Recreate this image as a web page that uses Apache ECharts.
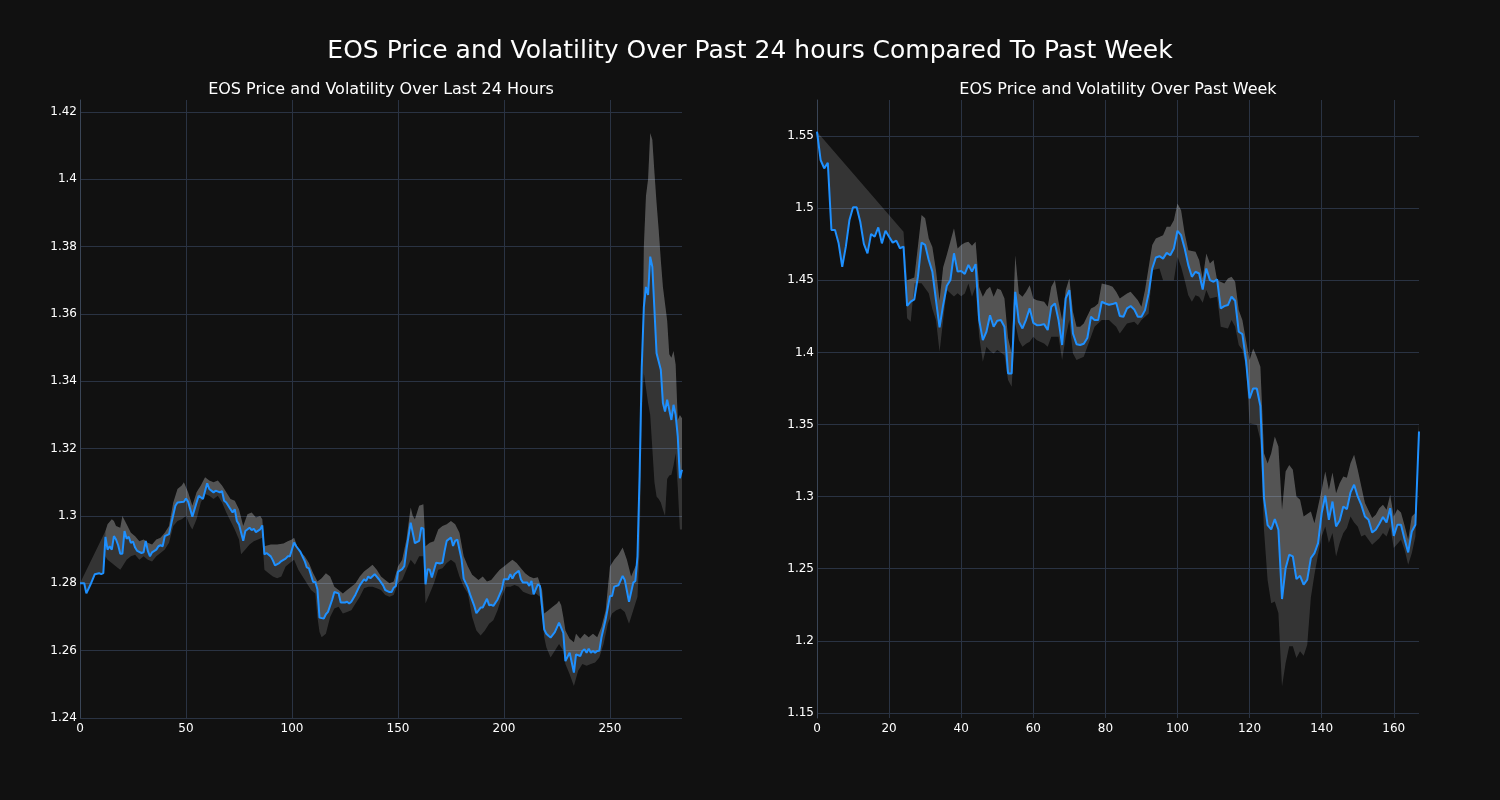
<!DOCTYPE html>
<html>
<head>
<meta charset="utf-8">
<script src="https://cdn.jsdelivr.net/npm/echarts@6/dist/echarts.min.js"></script>
<style>
html,body{margin:0;padding:0;background:#111111;}
#chart{width:1500px;height:800px;}
</style>
</head>
<body>
<div id="chart"></div>
<script>
// ---------- DATA ----------
const mainTitle = "EOS Price and Volatility Over Past 24 hours Compared To Past Week";
const leftTitle = "EOS Price and Volatility Over Last 24 Hours";
const rightTitle = "EOS Price and Volatility Over Past Week";

const leftXTicks = [0, 50, 100, 150, 200, 250];
const leftYTicks = [1.24, 1.26, 1.28, 1.30, 1.32, 1.34, 1.36, 1.38, 1.40, 1.42];
const rightXTicks = [0, 20, 40, 60, 80, 100, 120, 140, 160];
const rightYTicks = [1.15, 1.20, 1.25, 1.30, 1.35, 1.40, 1.45, 1.50, 1.55];

// Last 24 hours: price (index, value)
const dayX = [0,2,3,5,7,9,10,11,12,13,14,15,16,17,18,19,20,21,22,23,24,25,26,27,29,30,31,32,33,34,36,37,38,39,40,42,43,45,46,49,50,51,53,55,56,58,60,61,63,64,66,67,68,69,71,72,73,74,75,77,78,80,81,82,83,85,86,87,88,90,91,92,94,95,97,98,99,101,102,104,106,107,108,110,111,112,113,115,116,117,119,120,122,123,125,126,127,128,130,132,134,135,136,137,139,141,143,144,145,146,147,148,149,150,152,153,154,156,158,160,161,162,163,164,165,166,168,170,171,172,173,175,176,177,178,180,181,183,184,186,187,189,190,192,193,194,195,197,199,200,202,203,204,205,206,207,208,209,211,212,213,214,216,217,219,220,221,222,224,226,228,229,231,233,234,236,237,238,239,240,241,242,243,244,245,246,248,250,251,252,254,256,257,259,261,262,263,264,265,266,267,268,269,270,272,274,275,276,277,279,280,281,282,283,284];
const dayPrice = [1.2800,1.2800,1.2770,1.2797,1.2827,1.2830,1.2827,1.2830,1.2938,1.2900,1.2910,1.2900,1.2940,1.2930,1.2913,1.2888,1.2888,1.2955,1.2932,1.2938,1.2920,1.2924,1.2906,1.2896,1.2890,1.2892,1.2926,1.2896,1.2880,1.2892,1.2900,1.2910,1.2913,1.2910,1.2940,1.2946,1.2975,1.3030,1.3040,1.3042,1.3052,1.3042,1.2998,1.3040,1.3060,1.3050,1.3097,1.3080,1.3070,1.3075,1.3070,1.3074,1.3045,1.3040,1.3020,1.3010,1.3020,1.2985,1.2975,1.2926,1.2955,1.2965,1.2958,1.2962,1.2952,1.2960,1.2972,1.2886,1.2890,1.2880,1.2868,1.2853,1.2860,1.2866,1.2873,1.2880,1.2880,1.2921,1.2910,1.2893,1.2866,1.2847,1.2844,1.2804,1.2804,1.2782,1.2698,1.2695,1.2708,1.2715,1.2752,1.2774,1.2770,1.2743,1.2743,1.2745,1.2740,1.2745,1.2767,1.2794,1.2812,1.2807,1.2820,1.2815,1.2827,1.2812,1.2794,1.2780,1.2777,1.2774,1.2774,1.2787,1.2792,1.2834,1.2842,1.2851,1.2900,1.2980,1.2919,1.2926,1.2965,1.2962,1.2797,1.2842,1.2840,1.2817,1.2861,1.2859,1.2861,1.2896,1.2926,1.2936,1.2911,1.2926,1.2930,1.2871,1.2814,1.2787,1.2767,1.2733,1.2711,1.2728,1.2728,1.2754,1.2735,1.2736,1.2733,1.2752,1.2782,1.2812,1.2812,1.2827,1.2814,1.2827,1.2832,1.2837,1.2812,1.2802,1.2802,1.2792,1.2807,1.2767,1.2797,1.2792,1.2663,1.2650,1.2644,1.2639,1.2655,1.2683,1.2653,1.2569,1.2594,1.2535,1.2589,1.2584,1.2599,1.2604,1.2594,1.2606,1.2594,1.2599,1.2594,1.2599,1.2600,1.2639,1.2693,1.2762,1.2762,1.2790,1.2794,1.2822,1.2810,1.2745,1.2802,1.2807,1.2880,1.3120,1.3440,1.3620,1.3680,1.3656,1.3770,1.3740,1.3483,1.3434,1.3335,1.3310,1.3345,1.3285,1.3330,1.3300,1.3236,1.3112,1.3137];

// Last 24 hours: volatility band upper edge
const dayUpX = [0,12,13,15,16,17,19,20,22,24,26,28,30,32,34,36,38,40,42,44,46,48,49,51,53,55,57,59,61,63,65,67,69,71,73,75,77,79,81,83,85,86,87,90,93,96,98,100,101,103,106,108,110,112,114,116,118,120,122,124,126,128,130,132,134,136,138,140,142,144,146,148,150,152,154,156,157,158,160,162,163,165,167,169,171,173,175,177,179,181,183,185,188,190,192,194,196,198,200,202,204,206,208,210,212,214,216,218,219,221,223,225,226,227,228,229,231,233,234,236,238,240,242,244,246,248,250,252,254,256,258,260,262,263,264,265,266,267,268,269,270,271,272,273,274,275,276,277,278,279,280,281,282,283,284];
const dayUp = [1.2800,1.2955,1.2975,1.2990,1.2985,1.2970,1.2965,1.3000,1.2975,1.2950,1.2940,1.2925,1.2930,1.2920,1.2915,1.2930,1.2935,1.2950,1.2970,1.3040,1.3080,1.3090,1.3100,1.3070,1.3030,1.3070,1.3090,1.3115,1.3105,1.3100,1.3105,1.3090,1.3070,1.3050,1.3045,1.3020,1.2970,1.3005,1.3010,1.2995,1.3000,1.2990,1.2910,1.2915,1.2915,1.2918,1.2925,1.2930,1.2935,1.2900,1.2880,1.2860,1.2830,1.2805,1.2815,1.2830,1.2820,1.2790,1.2780,1.2770,1.2780,1.2790,1.2800,1.2820,1.2835,1.2845,1.2855,1.2840,1.2820,1.2810,1.2800,1.2805,1.2850,1.2870,1.2930,1.3025,1.3000,1.2990,1.3030,1.3035,1.2910,1.2920,1.2925,1.2960,1.2970,1.2975,1.2985,1.2975,1.2950,1.2880,1.2850,1.2825,1.2810,1.2820,1.2805,1.2810,1.2825,1.2840,1.2850,1.2860,1.2870,1.2860,1.2845,1.2830,1.2820,1.2815,1.2818,1.2780,1.2710,1.2720,1.2730,1.2740,1.2748,1.2735,1.2700,1.2660,1.2635,1.2625,1.2650,1.2635,1.2650,1.2640,1.2650,1.2640,1.2670,1.2720,1.2850,1.2870,1.2885,1.2906,1.2870,1.2820,1.2850,1.2860,1.3000,1.3300,1.3800,1.3950,1.4000,1.4137,1.4117,1.4020,1.3929,1.3850,1.3760,1.3680,1.3630,1.3580,1.3480,1.3470,1.3490,1.3450,1.3285,1.3300,1.3290];

// Last 24 hours: volatility band lower edge
const dayLoX = [12,13,15,17,19,20,22,24,26,28,30,32,34,36,38,40,42,44,46,48,50,52,53,55,57,59,61,63,65,67,69,71,73,75,76,78,80,82,84,86,87,89,91,93,95,97,99,101,103,105,107,109,111,112,113,114,116,118,120,122,124,126,128,130,132,134,136,138,140,142,144,146,148,150,152,154,156,158,160,162,163,165,167,169,171,173,175,177,179,181,183,185,187,189,191,193,195,197,199,201,203,205,207,209,211,213,215,217,218,219,220,222,224,226,228,229,231,233,235,237,239,241,243,245,247,249,251,253,255,257,259,261,262,263,264,265,266,267,268,269,270,271,272,273,274,275,276,277,278,279,280,281,282,283,284];
const dayLo = [1.2880,1.2870,1.2860,1.2850,1.2840,1.2850,1.2870,1.2880,1.2885,1.2870,1.2880,1.2870,1.2865,1.2880,1.2890,1.2900,1.2920,1.2970,1.2985,1.2990,1.3000,1.2970,1.2960,1.2990,1.3040,1.3065,1.3060,1.3050,1.3060,1.3040,1.3010,1.2985,1.2960,1.2930,1.2886,1.2900,1.2915,1.2925,1.2930,1.2935,1.2840,1.2830,1.2820,1.2815,1.2820,1.2850,1.2860,1.2870,1.2840,1.2820,1.2800,1.2780,1.2770,1.2700,1.2655,1.2640,1.2650,1.2700,1.2725,1.2730,1.2710,1.2715,1.2720,1.2740,1.2760,1.2785,1.2790,1.2790,1.2785,1.2780,1.2765,1.2760,1.2765,1.2800,1.2810,1.2840,1.2870,1.2855,1.2880,1.2880,1.2740,1.2770,1.2800,1.2840,1.2845,1.2860,1.2870,1.2860,1.2820,1.2790,1.2770,1.2700,1.2660,1.2645,1.2660,1.2680,1.2690,1.2720,1.2760,1.2790,1.2790,1.2795,1.2790,1.2775,1.2770,1.2765,1.2770,1.2760,1.2700,1.2640,1.2610,1.2580,1.2600,1.2620,1.2600,1.2560,1.2530,1.2495,1.2540,1.2560,1.2555,1.2560,1.2565,1.2580,1.2620,1.2680,1.2710,1.2720,1.2725,1.2715,1.2680,1.2720,1.2740,1.2760,1.2900,1.3300,1.3424,1.3380,1.3335,1.3300,1.3200,1.3100,1.3058,1.3050,1.3040,1.3018,1.3000,1.3110,1.3120,1.3122,1.3150,1.3186,1.3087,1.2960,1.2960];

// Past week: price (index, value)
const weekX = [];
for (let i = 0; i <= 167; i++) weekX.push(i);
const weekPrice = [1.5530,1.5334,1.5276,1.5315,1.4849,1.4849,1.4756,1.4594,1.4733,1.4918,1.5006,1.5006,1.4906,1.4752,1.4687,1.4821,1.4802,1.4867,1.4756,1.4844,1.4802,1.4761,1.4775,1.4722,1.4733,1.4322,1.4352,1.4368,1.4525,1.4761,1.4745,1.4641,1.4560,1.4363,1.4174,1.4329,1.4460,1.4502,1.4687,1.4560,1.4565,1.4544,1.4606,1.4560,1.4612,1.4224,1.4085,1.4143,1.4258,1.4178,1.4219,1.4224,1.4178,1.3854,1.3854,1.4420,1.4212,1.4166,1.4228,1.4305,1.4205,1.4189,1.4190,1.4196,1.4155,1.4316,1.4340,1.4224,1.4051,1.4374,1.4432,1.4131,1.4057,1.4051,1.4060,1.4100,1.4247,1.4224,1.4224,1.4351,1.4339,1.4330,1.4335,1.4344,1.4252,1.4247,1.4305,1.4321,1.4298,1.4247,1.4247,1.4293,1.4409,1.4582,1.4658,1.4667,1.4650,1.4690,1.4674,1.4720,1.4843,1.4813,1.4720,1.4605,1.4524,1.4559,1.4547,1.4436,1.4582,1.4501,1.4490,1.4506,1.4305,1.4321,1.4328,1.4386,1.4358,1.4143,1.4127,1.3947,1.3681,1.3750,1.3750,1.3628,1.2990,1.2803,1.2773,1.2844,1.2770,1.2290,1.2504,1.2597,1.2585,1.2428,1.2451,1.2389,1.2424,1.2574,1.2608,1.2678,1.2886,1.3006,1.2839,1.2966,1.2793,1.2835,1.2932,1.2913,1.3029,1.3082,1.3001,1.2943,1.2862,1.2839,1.2752,1.2770,1.2812,1.2858,1.2821,1.2920,1.2728,1.2805,1.2805,1.2705,1.2613,1.2758,1.2805,1.3451];

// Past week: volatility band upper edge
const weekUpX = [0,24,25,27,29,30,31,32,33,34,35,36,38,39,40,41,42,43,44,45,46,47,48,49,50,51,52,53,54,55,56,57,58,59,60,61,63,64,65,66,67,68,69,70,71,72,73,74,76,77,78,79,81,82,83,84,86,87,89,90,91,93,94,96,97,98,99,100,101,102,103,105,106,107,108,109,110,111,113,114,115,116,117,118,119,120,121,122,123,124,125,126,127,128,129,130,131,132,133,134,135,137,138,139,140,141,142,143,144,145,146,147,148,149,150,151,152,154,155,156,157,158,159,160,161,162,163,164,165,166,167];
const weekUp = [1.5530,1.4837,1.4500,1.4520,1.4953,1.4930,1.4790,1.4730,1.4570,1.4360,1.4590,1.4675,1.4860,1.4720,1.4745,1.4760,1.4767,1.4740,1.4767,1.4450,1.4386,1.4432,1.4455,1.4386,1.4443,1.4432,1.4374,1.4100,1.3993,1.4674,1.4409,1.4386,1.4420,1.4466,1.4374,1.4362,1.4351,1.4316,1.4455,1.4501,1.4351,1.4224,1.4432,1.4513,1.4282,1.4178,1.4178,1.4200,1.4305,1.4316,1.4339,1.4478,1.4466,1.4455,1.4420,1.4374,1.4409,1.4420,1.4362,1.4316,1.4432,1.4744,1.4790,1.4813,1.4871,1.4871,1.4917,1.5032,1.4986,1.4824,1.4709,1.4697,1.4640,1.4513,1.4686,1.4617,1.4640,1.4500,1.4478,1.4513,1.4524,1.4490,1.4293,1.4224,1.4085,1.3947,1.4027,1.3970,1.3900,1.3300,1.3230,1.3300,1.3417,1.3348,1.2909,1.3174,1.3220,1.3186,1.3001,1.2978,1.2862,1.2897,1.2816,1.2932,1.3047,1.3174,1.3047,1.3167,1.3024,1.3093,1.3140,1.3130,1.3232,1.3290,1.3186,1.3070,1.2955,1.2851,1.2874,1.2920,1.2943,1.2909,1.3013,1.2862,1.2913,1.2890,1.2800,1.2701,1.2862,1.2886,1.3510];

// Past week: volatility band lower edge
const weekLoX = [25,26,27,29,31,32,33,34,35,36,38,39,40,41,42,43,44,45,46,47,48,49,50,51,52,53,54,55,56,57,58,59,60,61,63,64,65,67,68,69,70,71,72,74,75,76,77,79,81,82,83,84,86,88,89,90,92,93,95,96,99,100,101,102,103,104,105,106,107,108,109,111,112,114,115,116,117,118,119,120,122,123,124,125,126,127,128,129,130,131,132,133,134,135,136,137,138,139,140,141,142,143,144,145,146,147,148,149,150,151,152,154,156,157,158,159,160,162,163,164,165,166,167];
const weekLo = [1.4236,1.4213,1.4480,1.4480,1.4410,1.4300,1.4225,1.4005,1.4225,1.4433,1.4387,1.4410,1.4390,1.4409,1.4478,1.4386,1.4455,1.4108,1.3935,1.4039,1.4010,1.3993,1.4016,1.4000,1.3981,1.3808,1.3762,1.4201,1.4085,1.4039,1.4060,1.4074,1.4108,1.4085,1.4062,1.4039,1.4108,1.4108,1.3947,1.4108,1.4224,1.3993,1.3947,1.3970,1.4039,1.4108,1.4178,1.4224,1.4224,1.4200,1.4178,1.4131,1.4200,1.4212,1.4189,1.4224,1.4270,1.4570,1.4582,1.4500,1.4500,1.4663,1.4593,1.4500,1.4397,1.4351,1.4397,1.4386,1.4344,1.4432,1.4374,1.4386,1.4178,1.4166,1.4224,1.4178,1.4051,1.4016,1.3900,1.3508,1.3496,1.3392,1.2768,1.2422,1.2260,1.2273,1.2193,1.1684,1.1846,1.1962,1.1962,1.1881,1.1927,1.1897,1.1973,1.2300,1.2460,1.2600,1.2724,1.2793,1.2678,1.2747,1.2585,1.2678,1.2747,1.2782,1.2862,1.2820,1.2793,1.2724,1.2735,1.2666,1.2712,1.2747,1.2724,1.2793,1.2643,1.2701,1.2631,1.2527,1.2608,1.2724,1.3440];

// ---------- CHART ----------
const FONT = "DejaVu Sans";
const GRID_COLOR = "#2a3343";
const LINE_COLOR = "#1e90ff";
const BAND_DARK = "rgba(255,255,255,0.15)";
const BAND_LIGHT = "rgba(255,255,255,0.16)";

function pairs(xs, ys) { return xs.map((x, i) => [x, ys[i]]); }

// full band polygon: upper edge forward, lower edge backward, then price before the lower edge starts
function bandRender(upX, upY, loX, loY, pX, pY) {
  return function (params, api) {
    const pts = [];
    for (let i = 0; i < upX.length; i++) pts.push(api.coord([upX[i], upY[i]]));
    for (let i = loX.length - 1; i >= 0; i--) pts.push(api.coord([loX[i], loY[i]]));
    for (let i = pX.length - 1; i >= 0; i--) if (pX[i] < loX[0]) pts.push(api.coord([pX[i], pY[i]]));
    return { type: 'polygon', shape: { points: pts }, style: { fill: BAND_DARK } };
  };
}
// upper half: between price and upper edge (where the band is defined)
function upperHalfRender(upX, upY, loX, pX, pY) {
  return function (params, api) {
    const start = loX[0];
    const pts = [];
    for (let i = 0; i < upX.length; i++) if (upX[i] >= start) pts.push(api.coord([upX[i], upY[i]]));
    for (let i = pX.length - 1; i >= 0; i--) if (pX[i] >= start) pts.push(api.coord([pX[i], pY[i]]));
    return { type: 'polygon', shape: { points: pts }, style: { fill: BAND_LIGHT } };
  };
}

function xAxis(idx, max, ticks) {
  return {
    type: 'value', gridIndex: idx, min: 0, max: max,
    axisLine: { show: false },
    axisTick: { show: false, customValues: ticks },
    axisLabel: { customValues: ticks, color: '#ffffff', fontFamily: FONT, fontSize: 12, margin: 5 },
    splitLine: { show: true, lineStyle: { color: GRID_COLOR, width: 1 } }
  };
}
function yAxis(idx, min, max, ticks) {
  return {
    type: 'value', gridIndex: idx, min: min, max: max,
    axisLine: { show: true, lineStyle: { color: '#3a4556', width: 1 } },
    axisTick: { show: false, customValues: ticks },
    axisLabel: { customValues: ticks, color: '#ffffff', fontFamily: FONT, fontSize: 12, margin: 3,
      formatter: v => String(parseFloat(v.toFixed(2))) },
    splitLine: { show: true, lineStyle: { color: GRID_COLOR, width: 1 } }
  };
}

const chart = echarts.init(document.getElementById('chart'), null, { renderer: 'canvas' });
chart.setOption({
  backgroundColor: '#111111',
  animation: false,
  title: [
    { text: mainTitle, left: 750, top: 39, textAlign: 'center', padding: 0,
      textStyle: { color: '#ffffff', fontFamily: FONT, fontSize: 25, fontWeight: 'normal' } },
    { text: leftTitle, left: 381, top: 82, textAlign: 'center', padding: 0,
      textStyle: { color: '#ffffff', fontFamily: FONT, fontSize: 16, fontWeight: 'normal' } },
    { text: rightTitle, left: 1118, top: 82, textAlign: 'center', padding: 0,
      textStyle: { color: '#ffffff', fontFamily: FONT, fontSize: 16, fontWeight: 'normal' } }
  ],
  grid: [
    { left: 80, top: 100, width: 602, height: 618 },
    { left: 817, top: 100, width: 602, height: 618 }
  ],
  xAxis: [xAxis(0, 284, leftXTicks), xAxis(1, 167, rightXTicks)],
  yAxis: [yAxis(0, 1.24, 1.4235, leftYTicks), yAxis(1, 1.1465, 1.575, rightYTicks)],
  series: [
    { type: 'custom', xAxisIndex: 0, yAxisIndex: 0, data: [[0, 1.3]], silent: true, z: 1,
      renderItem: bandRender(dayUpX, dayUp, dayLoX, dayLo, dayX, dayPrice) },
    { type: 'custom', xAxisIndex: 0, yAxisIndex: 0, data: [[0, 1.3]], silent: true, z: 2,
      renderItem: upperHalfRender(dayUpX, dayUp, dayLoX, dayX, dayPrice) },
    { type: 'line', xAxisIndex: 0, yAxisIndex: 0, data: pairs(dayX, dayPrice), showSymbol: false, z: 3,
      lineStyle: { color: LINE_COLOR, width: 2 }, itemStyle: { color: LINE_COLOR } },
    { type: 'custom', xAxisIndex: 1, yAxisIndex: 1, data: [[0, 1.3]], silent: true, z: 1,
      renderItem: bandRender(weekUpX, weekUp, weekLoX, weekLo, weekX, weekPrice) },
    { type: 'custom', xAxisIndex: 1, yAxisIndex: 1, data: [[0, 1.3]], silent: true, z: 2,
      renderItem: upperHalfRender(weekUpX, weekUp, weekLoX, weekX, weekPrice) },
    { type: 'line', xAxisIndex: 1, yAxisIndex: 1, data: pairs(weekX, weekPrice), showSymbol: false, z: 3,
      lineStyle: { color: LINE_COLOR, width: 2 }, itemStyle: { color: LINE_COLOR } }
  ]
});
</script>
</body>
</html>
